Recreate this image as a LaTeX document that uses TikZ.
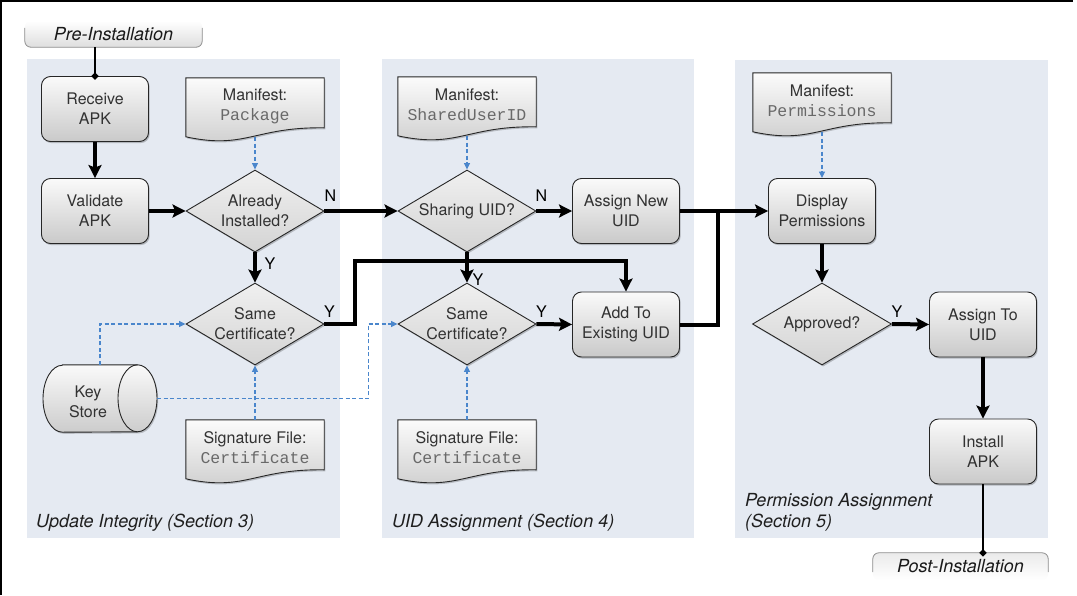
\documentclass[tikz,border=0pt]{standalone}
\usepackage{fontspec}
\setmainfont{TeX Gyre Heros}
\newfontfamily\monofnt{Liberation Mono}
\usetikzlibrary{shapes.geometric,arrows.meta,calc,shadows}
\pgfdeclarelayer{panel}
\pgfdeclarelayer{bg}
\pgfsetlayers{panel,bg,main}
\definecolor{panelc}{RGB}{229,234,242}
\definecolor{dashc}{RGB}{74,134,204}
\definecolor{txtc}{RGB}{50,50,50}
\definecolor{monoc}{RGB}{105,105,105}
\newcommand\mono[1]{{\monofnt\fontsize{16.5}{20}\selectfont\color{monoc}#1}}
\newcommand\docshape[2]{%
  \path[#2] (#1.north west) -- (#1.north east) -- ([yshift=-50pt]#1.north east)
    .. controls ([xshift=-70pt,yshift=-49pt]#1.north east) and ([xshift=60pt,yshift=-72pt]#1.north west)
    .. ([yshift=-59pt]#1.north west) -- cycle;}
\begin{document}
\begin{tikzpicture}[x=1pt,y=1pt,
  base/.style={font=\fontsize{16}{20}\selectfont, align=center, text=txtc},
  softshadow/.style={drop shadow={shadow xshift=1.2pt, shadow yshift=-1.6pt, opacity=0.22, fill=black}},
  procbox/.style={base, rectangle, rounded corners=9pt, draw=black!85, line width=0.9pt,
    top color=gray!4, bottom color=gray!42, minimum width=107pt, minimum height=65pt,
    inner sep=2pt, softshadow},
  decbox/.style={base, diamond, aspect=1.68, draw=black!85, line width=0.9pt,
    top color=gray!12, bottom color=gray!34, minimum width=138pt, minimum height=82pt,
    inner sep=-2pt, softshadow},
  docbox/.style={base, rectangle, minimum width=138pt, minimum height=56pt, inner sep=0pt},
  tabbox/.style={font=\fontsize{18}{20}\selectfont\itshape, text=black!90, inner sep=0pt},
  flow/.style={line width=4pt, line join=miter, -{Stealth[length=13pt,width=13pt,inset=2.5pt]}},
  flowline/.style={line width=4pt, line join=miter},
  thinflow/.style={line width=2.6pt, -{Circle[length=6.5pt]}, shorten >=-3.25pt},
  dflow/.style={dashc, line width=1.1pt, dash pattern=on 4pt off 2.5pt,
    -{Triangle[length=6.5pt,width=6pt]}},
  lbl/.style={font=\fontsize{16}{18}\selectfont, text=black, inner sep=0pt},
  plbl/.style={font=\fontsize{18}{21}\selectfont\itshape, text=black!88, align=left,
    anchor=west, inner sep=0pt}
]
\useasboundingbox (0,0) rectangle (1077,-595);
\draw[line width=1.5pt] (0.75,-595) -- (0.75,-0.75) -- (1073,-0.75);

% panels
\begin{pgfonlayer}{panel}
  \fill[panelc] (27,-59) rectangle (340,-538);
  \fill[panelc] (382,-59) rectangle (694,-538);
  \fill[panelc] (735,-60) rectangle (1048,-538);
\end{pgfonlayer}

% tabs
\node[tabbox, minimum width=177pt, minimum height=26pt] (pre) at (113.5,-34) {Pre-Installation};
\node[tabbox, minimum width=175pt, minimum height=27pt] (post) at (960.5,-566.5) {Post-Installation};
\begin{pgfonlayer}{bg}
  \shade[top color=white, bottom color=black!13, rounded corners=6pt]
    (pre.north west) rectangle (pre.south east);
  \draw[black!45, line width=0.8pt, rounded corners=6pt]
    ([yshift=-7pt]pre.north west) -- (pre.south west) -- (pre.south east) -- ([yshift=-7pt]pre.north east);
  \shade[top color=black!8, bottom color=white, rounded corners=6pt]
    (post.north west) rectangle (post.south east);
  \draw[black!45, line width=0.8pt, rounded corners=6pt]
    ([yshift=8pt]post.south west) -- (post.north west) -- (post.north east) -- ([yshift=8pt]post.south east);
\end{pgfonlayer}

% section 3
\node[procbox] (recv) at (95,-109) {Receive\\APK};
\node[procbox] (val) at (95,-211) {Validate\\APK};
\node[docbox] (m1) at (255,-106) {Manifest:\\\mono{Package}};
\node[decbox] (ai) at (255,-211) {Already\\Installed?};
\node[decbox] (sc1) at (255,-324) {Same\\Certificate?};
\node[docbox] (s1) at (255,-448) {Signature File:\\\mono{Certificate}};
\node[minimum width=114pt, minimum height=67pt, inner sep=0pt] (ks) at (100,-398.5) {};
\node[base, inner sep=0pt] (kst) at (88,-402) {Key\\Store};

% section 4
\node[docbox] (m2) at (467,-105) {Manifest:\\\mono{SharedUserID}};
\node[decbox] (su) at (467,-211) {Sharing UID?};
\node[procbox] (anew) at (626,-211) {Assign New\\UID};
\node[decbox] (sc2) at (467,-324) {Same\\Certificate?};
\node[procbox] (aex) at (626,-324.5) {Add To\\Existing UID};
\node[docbox] (s2) at (467,-448) {Signature File:\\\mono{Certificate}};

% section 5
\node[docbox] (m3) at (822,-101) {Manifest:\\\mono{Permissions}};
\node[procbox] (disp) at (822,-211) {Display\\Permissions};
\node[decbox, minimum width=139pt] (ap) at (822,-324) {Approved?};
\node[procbox] (ato) at (983,-324.5) {Assign To\\UID};
\node[procbox] (inst) at (983,-451.5) {Install\\APK};

% document and cylinder shapes
\begin{pgfonlayer}{bg}
  \foreach \d in {m1,m2,m3,s1,s2}{
    \docshape{\d}{fill=black, opacity=0.2, transform canvas={shift={(1.2pt,-1.6pt)}}}
    \docshape{\d}{draw=black!85, line width=0.9pt, top color=gray!3, bottom color=gray!40}
  }
  \path[fill=black, opacity=0.2, transform canvas={shift={(1.2pt,-1.6pt)}}]
    ([xshift=-37.5pt]ks.north) -- ([xshift=37.5pt]ks.north)
    arc[start angle=90, end angle=-90, x radius=19.5pt, y radius=33.5pt]
    -- ([xshift=-37.5pt]ks.south)
    arc[start angle=270, end angle=90, x radius=19.5pt, y radius=33.5pt] -- cycle;
  \path[draw=black!85, line width=0.9pt, top color=gray!4, bottom color=gray!40]
    ([xshift=-37.5pt]ks.north) -- ([xshift=37.5pt]ks.north)
    arc[start angle=90, end angle=-90, x radius=19.5pt, y radius=33.5pt]
    -- ([xshift=-37.5pt]ks.south)
    arc[start angle=270, end angle=90, x radius=19.5pt, y radius=33.5pt] -- cycle;
  \draw[black!85, line width=0.9pt] ([xshift=37.5pt]ks.north)
    arc[start angle=90, end angle=270, x radius=19.5pt, y radius=33.5pt];
\end{pgfonlayer}

% main flow
\draw[thinflow] (recv.north |- pre.south) -- (recv.north);
\draw[flow] (recv.south) -- (val.north);
\draw[flow] (val.east) -- (ai.west);
\draw[flow] (ai.east) -- (su.west);
\node[lbl] (ln1) at ([shift={(6,15)}]ai.east) {N};
\draw[flow] (ai.south) -- (sc1.north);
\node[lbl] (ly1) at ([shift={(15,-11)}]ai.south) {Y};
\draw[flow] (sc1.east) -- ++(31,0) |- ([yshift=31pt]aex.north) -- (aex.north);
\node[lbl] (ly2) at ([shift={(5,12)}]sc1.east) {Y};
\draw[flow] (su.east) -- (anew.west);
\node[lbl] (ln2) at ([shift={(5,15)}]su.east) {N};
\draw[flow] (su.south) -- (sc2.north);
\node[lbl] (ly3) at ([shift={(11,-27)}]su.south) {Y};
\draw[flow] (sc2.east) -- (aex.west);
\node[lbl] (ly4) at ([shift={(5,12)}]sc2.east) {Y};
\draw[flow] (anew.east) -- (disp.west);
\draw[flowline] (aex.east) -| ([xshift=38pt]anew.east);
\draw[flow] (disp.south) -- (ap.north);
\draw[flow] (ap.east) -- (ato.west);
\node[lbl] (ly5) at ([shift={(5,12)}]ap.east) {Y};
\draw[flow] (ato.south) -- (inst.north);
\draw[thinflow] (inst.south) -- (inst.south |- post.north);

% data flows
\draw[dflow] ([yshift=-3pt]m1.south) -- (ai.north);
\draw[dflow] ([yshift=-3pt]m2.south) -- (su.north);
\draw[dflow] ([yshift=-3pt]m3.south) -- (disp.north);
\draw[dflow] (s1.north) -- (sc1.south);
\draw[dflow] (s2.north) -- (sc2.south);
\draw[dflow] (ks.north) |- (sc1.west);
\draw[dflow] (ks.east) -| ([xshift=-29pt]sc2.west) -- (sc2.west);

% panel labels
\node[plbl] (p3) at (36,-523) {Update Integrity (Section 3)};
\node[plbl] (p4) at (392,-523) {UID Assignment (Section 4)};
\node[plbl] (p5) at (745,-512) {Permission Assignment\\(Section 5)};
\end{tikzpicture}
\end{document}
